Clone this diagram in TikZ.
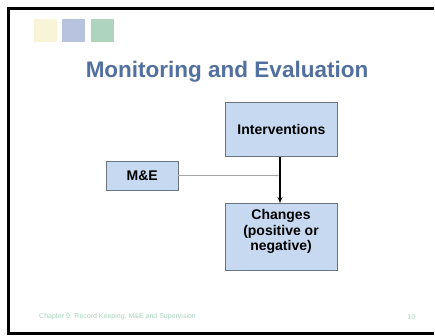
\documentclass[tikz,border=0pt]{standalone}
\usepackage{fontspec}
\setmainfont{Liberation Sans}
\usetikzlibrary{arrows.meta}
\definecolor{sqyellow}{HTML}{F8F4D8}
\definecolor{sqblue}{HTML}{B8C4DF}
\definecolor{sqgreen}{HTML}{AED4BE}
\definecolor{titleblue}{HTML}{52709F}
\definecolor{boxfill}{HTML}{C6D9F1}
\definecolor{boxline}{HTML}{6B7380}
\definecolor{footgreen}{HTML}{A6D6BE}
\tikzset{
  sq/.style={minimum width=23pt,minimum height=23pt,inner sep=0pt,anchor=north west},
  fbox/.style={draw=boxline,fill=boxfill,line width=0.8pt,inner sep=0pt,anchor=north west},
  btext/.style={font=\fontsize{14}{15.5}\selectfont\bfseries,align=center,inner sep=0pt},
  foot/.style={font=\fontsize{7}{8}\selectfont,text=footgreen,inner sep=0pt}
}
\begin{document}
\begin{tikzpicture}[x=1pt,y=-1pt]
\fill[white] (0,0) rectangle (435,335);
\useasboundingbox (0,0) rectangle (435,335);
\draw[line width=3pt] (8,335) -- (8,8) -- (434,8);
\draw[line width=3pt] (8,333.5) -- (434,333.5);
\node[sq,fill=sqyellow] (s1) at (34,19) {};
\node[sq,fill=sqblue] (s2) at (62,19) {};
\node[sq,fill=sqgreen] (s3) at (91,19) {};
\node[font=\fontsize{22.5}{24}\selectfont\bfseries,text=titleblue,inner sep=0pt] (title) at (227,72) {Monitoring and Evaluation};
\node[fbox,minimum width=112pt,minimum height=54pt] (int) at (225,102) {};
\node[btext] (intt) at (int.center) {Interventions};
\node[fbox,minimum width=71.5pt,minimum height=29pt] (me) at (106,161) {};
\node[btext] (met) at (me.center) {M\&E};
\node[fbox,minimum width=112pt,minimum height=67pt] (chg) at (225,203) {};
\node[btext] (chgt) at (281,231.5) {Changes\\(positive or\\negative)};
\coordinate (junc) at (280,175.5);
\draw[line width=2pt,-{Stealth[length=6pt,width=5pt]}] (int.south -| junc) -- (chg.north -| junc);
\draw[gray!70,line width=0.6pt,-{Stealth[length=2.5pt,width=2pt]},shorten >=1.2pt] (me.east |- junc) -- (junc);
\node[foot,anchor=west] (ft) at (39,317) {Chapter 9: Record Keeping, M\&E and Supervision};
\node[foot,anchor=east] (pg) at (415.5,317) {10};
\end{tikzpicture}
\end{document}
